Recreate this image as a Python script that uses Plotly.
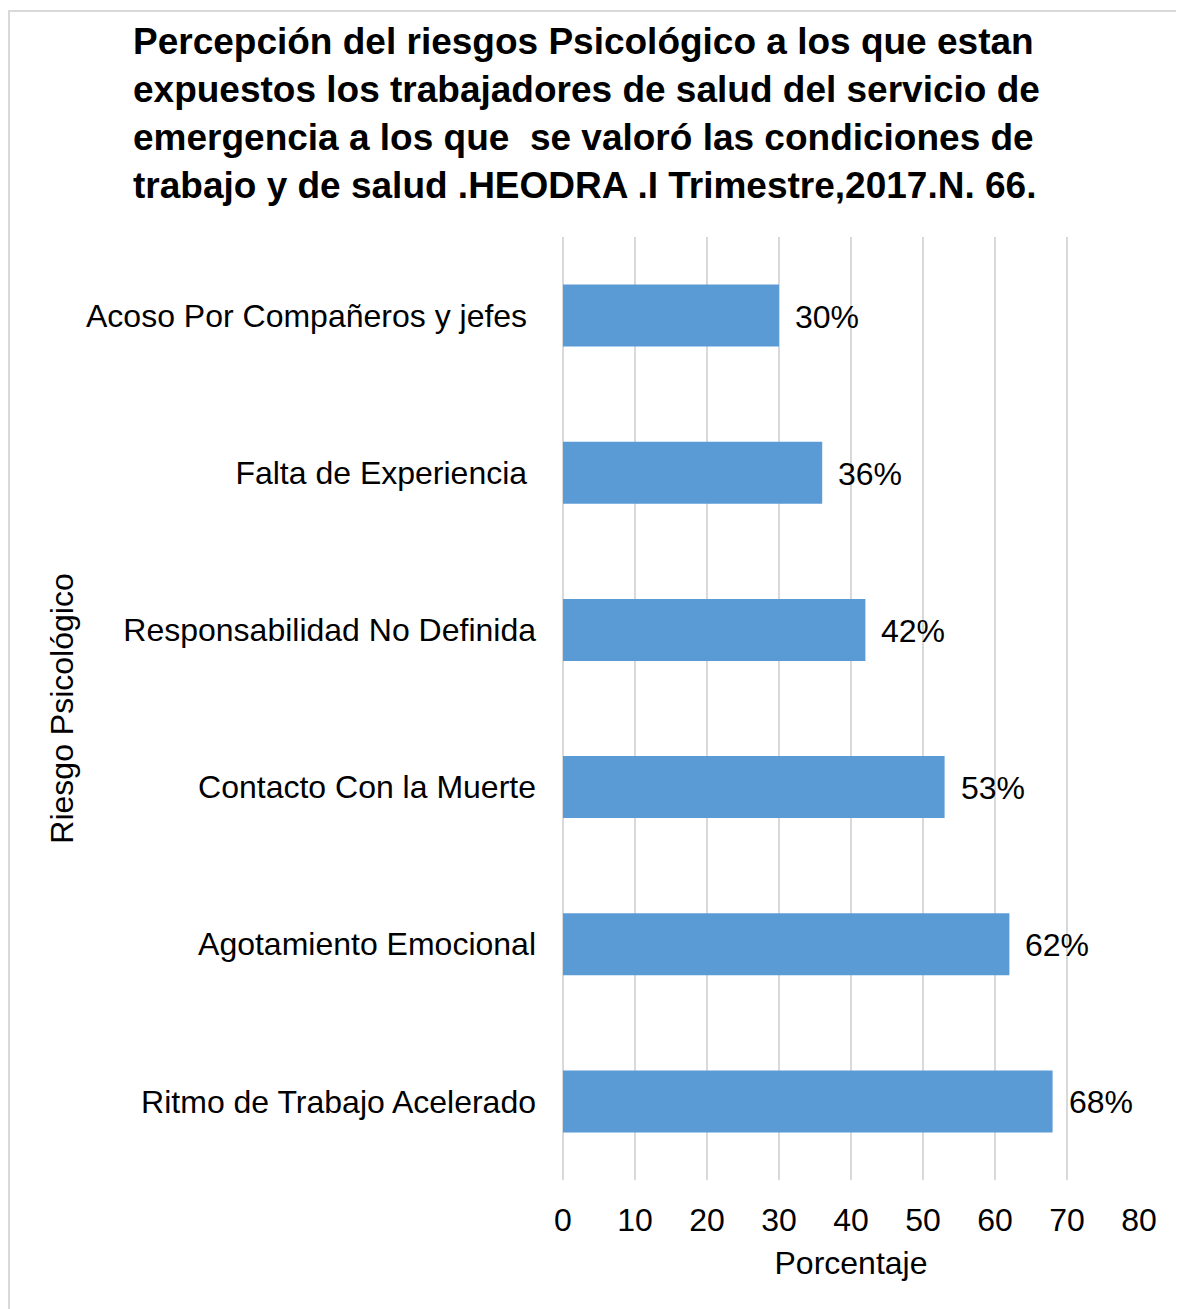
import plotly.graph_objects as go

categories = [
    "Acoso Por Compañeros y jefes\u00a0",
    "Falta de Experiencia\u00a0",
    "Responsabilidad No Definida",
    "Contacto Con la Muerte",
    "Agotamiento Emocional",
    "Ritmo de Trabajo Acelerado",
]
values = [30, 36, 42, 53, 62, 68]
value_labels = ["30%", "36%", "42%", "53%", "62%", "68%"]
x_ticks = [0, 10, 20, 30, 40, 50, 60, 70, 80]

title_lines = [
    "Percepción del riesgos Psicológico a los que estan",
    "expuestos los trabajadores de salud del servicio de",
    "emergencia a los que  se valoró las condiciones de",
    "trabajo y de salud .HEODRA .I Trimestre,2017.N. 66.",
]

W, H = 1184, 1309
L, R, T, B = 555, 53, 229, 137
FONT = "Liberation Sans, Arial, sans-serif"

fig = go.Figure()
fig.add_trace(go.Bar(
    y=categories, x=values, orientation="h",
    marker=dict(color="#5B9BD5", line=dict(width=0)),
    hoverinfo="x+y",
))

annotations = []
for c, v, t in zip(categories, values, value_labels):
    annotations.append(dict(
        x=v, y=c, xref="x", yref="y", text=t, showarrow=False,
        xanchor="left", yanchor="middle", xshift=14, yshift=-1,
        font=dict(family=FONT, size=32, color="#000000"),
    ))

pw = W - L - R
ph = H - T - B
def px_x(p):
    return (p - L) / pw
def px_y(p):
    return (H - B - p) / ph

fig.update_layout(
    width=W, height=H,
    margin=dict(l=L, r=R, t=T, b=B, autoexpand=False),
    paper_bgcolor="#FFFFFF", plot_bgcolor="#FFFFFF",
    showlegend=False,
    bargap=0.605,
    font=dict(family=FONT, size=32, color="#000000"),
    title=dict(
        text="<br>".join(title_lines),
        x=125 / W, xanchor="left", xref="container",
        y=1 - 46 / H, yanchor="middle", yref="container",
        font=dict(family=FONT, size=37, color="#000000", weight="bold"),
    ),
    xaxis=dict(
        range=[0, 80], tickvals=x_ticks, ticktext=[str(v) for v in x_ticks],
        showgrid=True, gridcolor="#D9D9D9", gridwidth=1.5,
        zeroline=True, zerolinecolor="#D9D9D9", zerolinewidth=1.5,
        showline=False, ticks="", ticklabelstandoff=18,
        tickfont=dict(family=FONT, size=32, color="#000000"),
        title=dict(text="Porcentaje", standoff=14,
                   font=dict(family=FONT, size=32, color="#000000")),
        fixedrange=True,
    ),
    yaxis=dict(
        autorange="reversed", showgrid=False, showline=False, ticks="",
        ticklabelstandoff=26,
        tickfont=dict(family=FONT, size=32, color="#000000"),
        title=dict(text="Riesgo Psicológico", standoff=2,
                   font=dict(family=FONT, size=32, color="#000000")),
    ),
    annotations=annotations,
    shapes=[dict(
        type="rect", xref="paper", yref="paper",
        x0=px_x(1), x1=px_x(W + 20), y0=px_y(H + 20), y1=px_y(3),
        line=dict(color="#D9D9D9", width=2), fillcolor="rgba(0,0,0,0)",
        layer="below",
    )],
)

fig.write_html("out.html")
